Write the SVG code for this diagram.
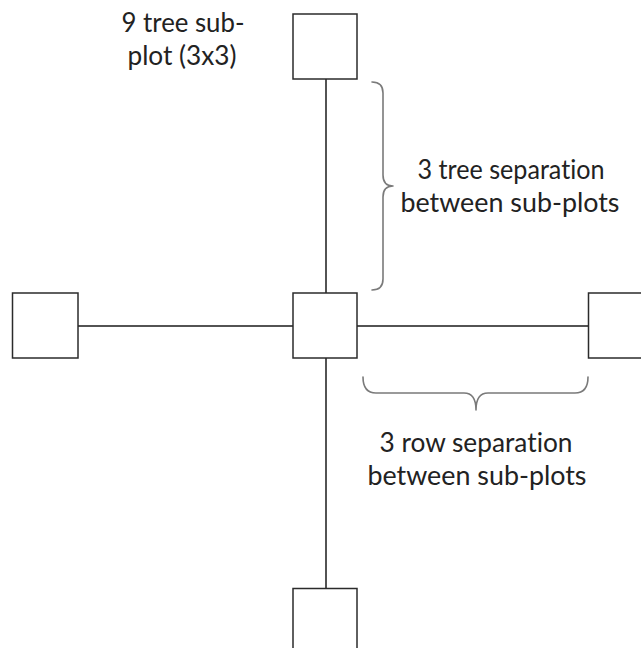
<svg xmlns="http://www.w3.org/2000/svg" width="641" height="648" viewBox="0 0 641 648">
<style>
.bg{fill:#ffffff}
.plot{fill:#ffffff;stroke:#2b2b2b;stroke-width:1.5}
.conn{stroke:#1a1a1a;stroke-width:1.5;fill:none}
.brace{fill:none;stroke:#7a7a7a;stroke-width:1.6;stroke-linecap:round;stroke-linejoin:round}
.lbl{font-family:Lato,"Liberation Sans",sans-serif;font-size:26px;fill:#222222;text-anchor:middle;font-variant-ligatures:none;font-feature-settings:"liga" 0}
</style>
<rect class="bg" x="0" y="0" width="641" height="648"/>
<g id="connectors">
<line class="conn" x1="326" y1="79" x2="326" y2="588"/>
<line class="conn" x1="78" y1="326" x2="588" y2="326"/>
</g>
<g id="plot-top"><rect class="plot" x="293" y="14" width="64" height="65"/></g>
<g id="plot-left"><rect class="plot" x="12.5" y="293" width="65.5" height="65"/></g>
<g id="plot-center"><rect class="plot" x="293" y="293" width="64" height="65"/></g>
<g id="plot-right"><rect class="plot" x="588.5" y="293" width="70" height="65"/></g>
<g id="plot-bottom"><rect class="plot" x="293" y="588.5" width="64" height="70"/></g>
<g id="brace-tree">
<path class="brace" d="M372,82 Q383,82 383,93 L383,175 Q383,186 393,186 Q383,186 383,197 L383,279 Q383,290 372,290"/>
</g>
<g id="brace-row">
<path class="brace" d="M363,377 Q363,393 376,393 L464,393 Q476,393 476,410 Q476,393 488,393 L575,393 Q588,393 588,377"/>
</g>
<g id="label-subplot">
<text class="lbl" x="183" y="32" textLength="123" lengthAdjust="spacingAndGlyphs">9 tree sub-</text>
<text class="lbl" x="182" y="65" textLength="109" lengthAdjust="spacingAndGlyphs">plot (3x3)</text>
</g>
<g id="label-tree">
<text class="lbl" x="511" y="179" textLength="187" lengthAdjust="spacingAndGlyphs">3 tree separation</text>
<text class="lbl" x="510" y="212" textLength="219" lengthAdjust="spacingAndGlyphs">between sub-plots</text>
</g>
<g id="label-row">
<text class="lbl" x="476" y="452" textLength="193" lengthAdjust="spacingAndGlyphs">3 row separation</text>
<text class="lbl" x="477" y="485" textLength="219" lengthAdjust="spacingAndGlyphs">between sub-plots</text>
</g>
</svg>
